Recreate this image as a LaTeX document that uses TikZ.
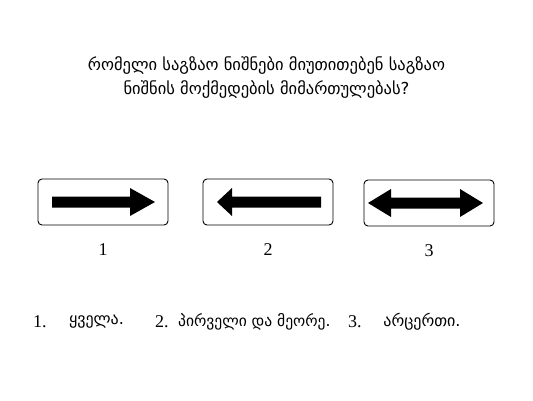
\documentclass[tikz,border=0pt]{standalone}
\usepackage{fontspec}
\setmainfont{Liberation Serif}
\newfontfamily\geo{DejaVu Sans}
\usetikzlibrary{positioning}

\newcommand{\plaque}[3]{
\draw [black, line width=0.9pt, rounded corners=4pt] (#1,#2) rectangle (#1+130,#2+46);
\node (#3) at (#1+65,#2+71) {\fontsize{18}{21}\selectfont #3};
}
\newcommand{\versdroite}[3]{
\fill [black] (#1,#3-5.5) -- (#2-25,#3-5.5) -- (#2-25,#3-14) -- (#2,#3) -- (#2-25,#3+14) -- (#2-25,#3+5.5) -- (#1,#3+5.5) -- cycle;
}
\newcommand{\versgauche}[3]{
\fill [black] (#2,#3-5.5) -- (#1+15,#3-5.5) -- (#1+15,#3-14) -- (#1,#3) -- (#1+15,#3+14) -- (#1+15,#3+5.5) -- (#2,#3+5.5) -- cycle;
}
\newcommand{\deuxsens}[3]{
\fill [black] (#1,#3) -- (#1+23,#3-14) -- (#1+23,#3-5.5) -- (#2-23,#3-5.5) -- (#2-23,#3-14) -- (#2,#3) -- (#2-23,#3+14) -- (#2-23,#3+5.5) -- (#1+23,#3+5.5) -- (#1+23,#3+14) -- cycle;
}

\begin{document}
\begin{tikzpicture}[x=1pt, y=-1pt, every node/.style={inner sep=0pt}]
\useasboundingbox (0,0) rectangle (533,400);

\node (q1) at (266.5,66) {\geo\fontsize{16.5}{19}\selectfont რომელი საგზაო ნიშნები მიუთითებენ საგზაო};
\node (q2) at (266.5,90) {\geo\fontsize{16.5}{19}\selectfont ნიშნის მოქმედების მიმართულებას?};

\plaque{38}{179}{1}
\plaque{203}{179}{2}
\plaque{364}{180}{3}

\versdroite{52}{155}{202}
\versgauche{217}{321}{202}
\deuxsens{368}{483}{203}

% reponses
\node (n1) [anchor=west] at (33,322) {\fontsize{18}{21}\selectfont 1.};
\node (r1) at (96.5,322) {\geo\fontsize{16}{19}\selectfont ყველა.};
\node (n2) [anchor=west] at (155,322) {\fontsize{18}{21}\selectfont 2.};
\node (r2) [anchor=west] at (178,322) {\geo\fontsize{15.5}{19}\selectfont პირველი და მეორე.};
\node (n3) [anchor=west] at (348,322) {\fontsize{18}{21}\selectfont 3.};
\node (r3) at (422,322) {\geo\fontsize{16}{19}\selectfont არცერთი.};

\end{tikzpicture}
\end{document}
